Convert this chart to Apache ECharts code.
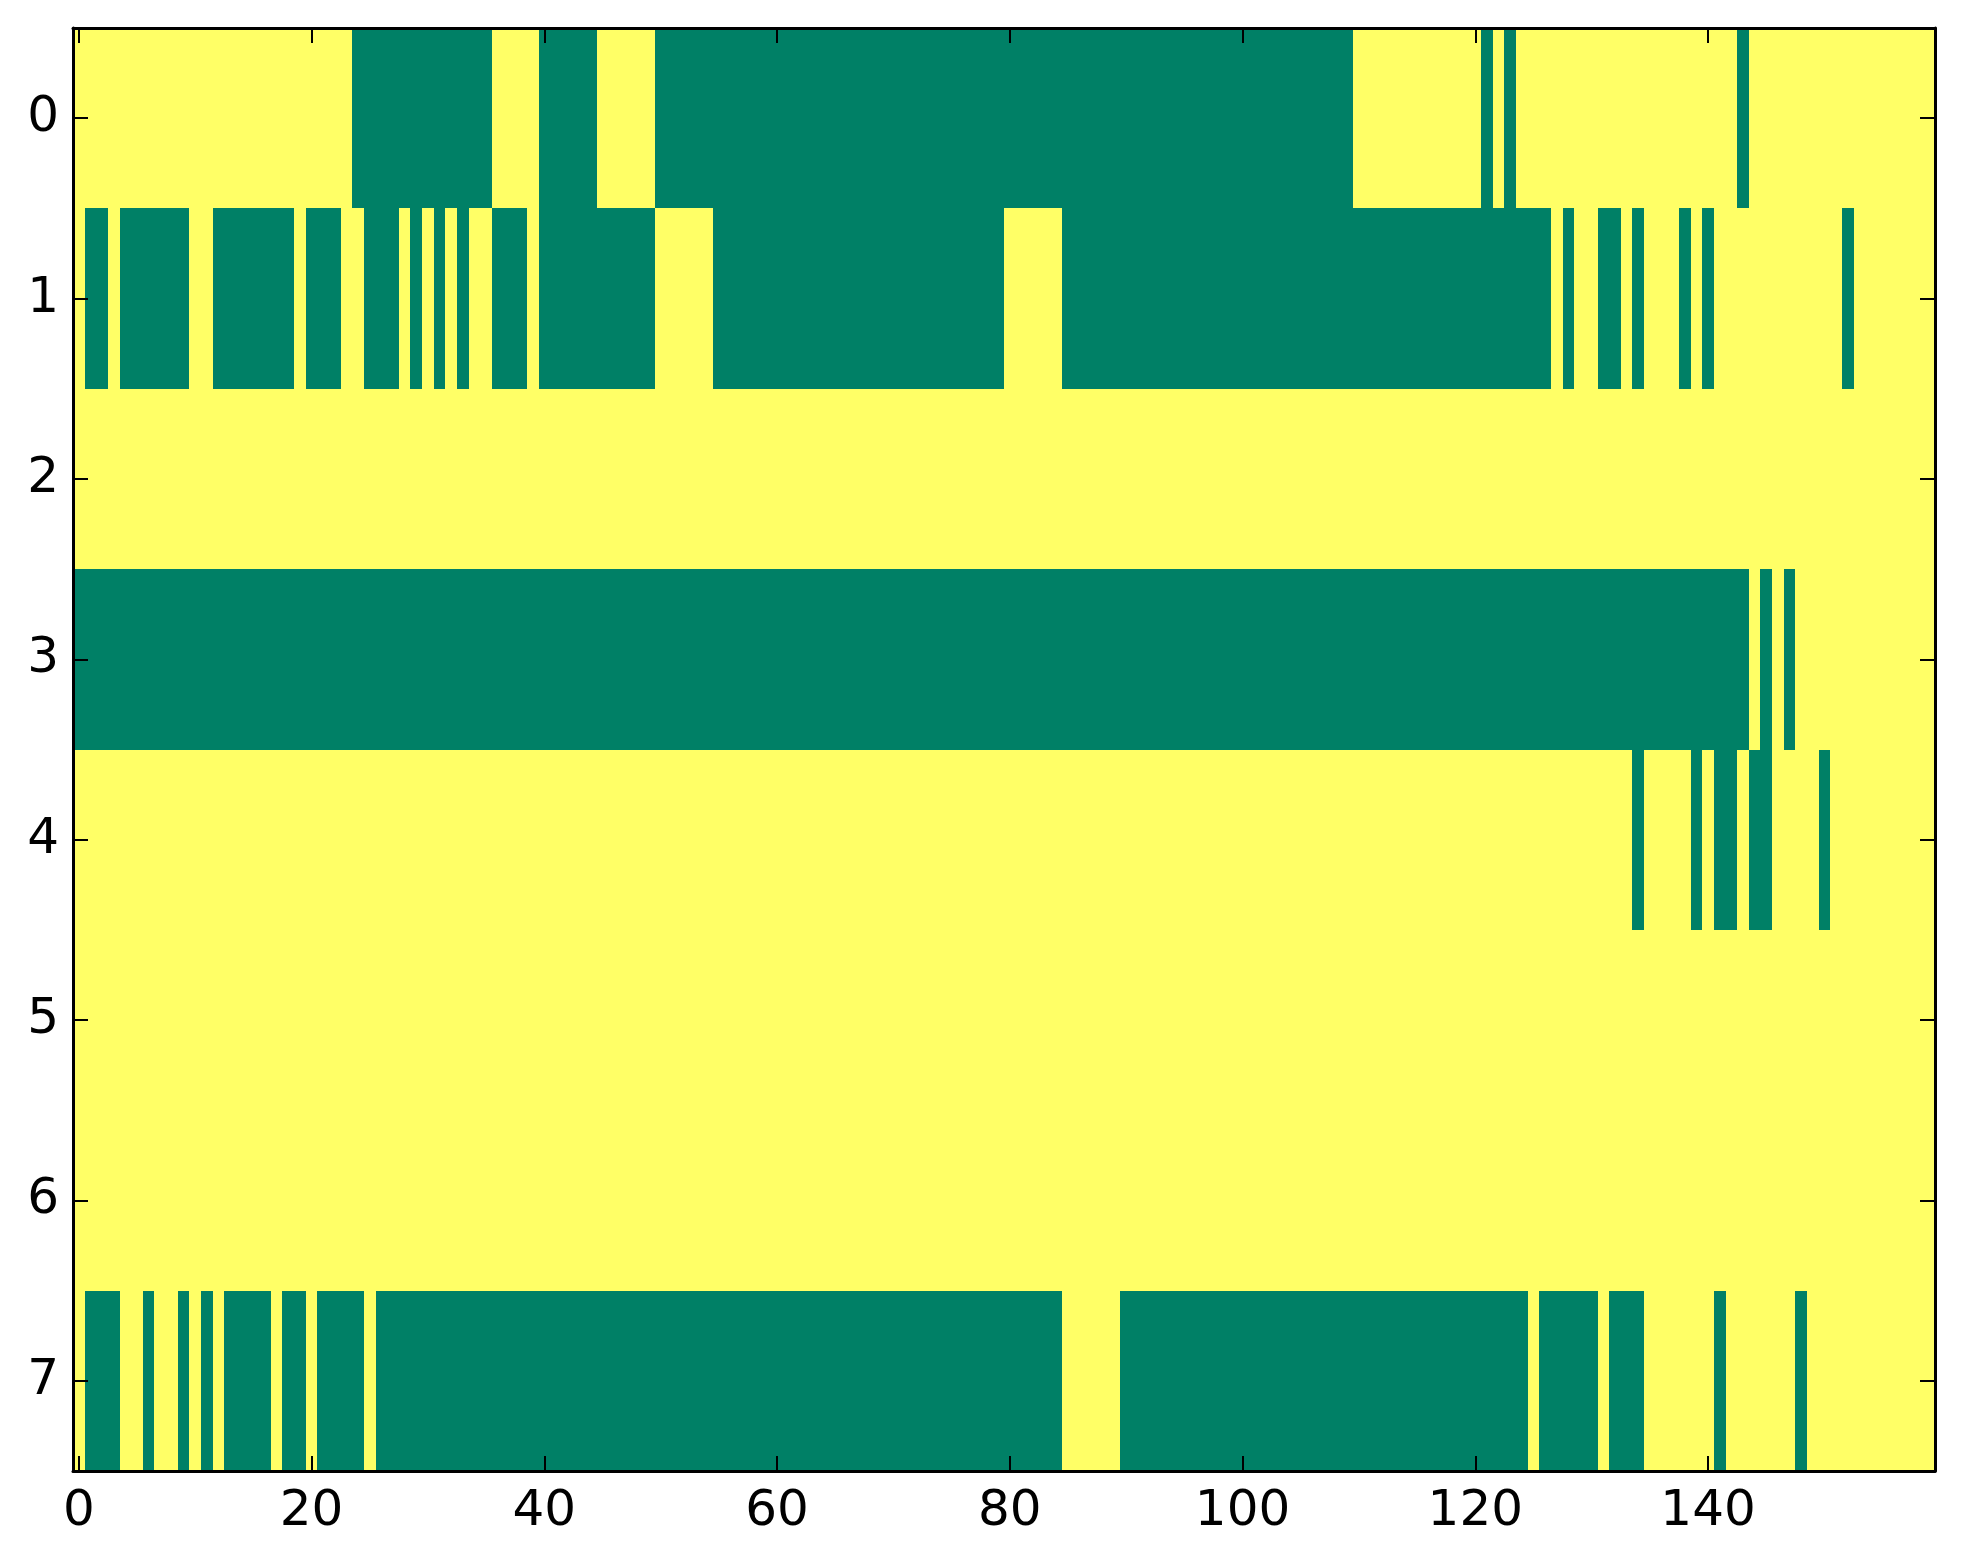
<!DOCTYPE html>
<html>
<head>
<meta charset="utf-8">
<script src="https://cdn.jsdelivr.net/npm/echarts@6/dist/echarts.min.js"></script>
<style>
  html, body { margin: 0; padding: 0; background: #ffffff; }
  #chart { width: 1963px; height: 1564px; }
</style>
</head>
<body>
<div id="chart"></div>
<script>
// Column indices 0..159 and row indices 0..7
const columns = Array.from({ length: 160 }, (_, i) => String(i));
const rows = ['0', '1', '2', '3', '4', '5', '6', '7'];

// Cell values (0 = green, 1 = yellow), 20 values per line
const row0 = [
  1,1,1,1,1,1,1,1,1,1,1,1,1,1,1,1,1,1,1,1,
  1,1,1,1,0,0,0,0,0,0,0,0,0,0,0,0,1,1,1,1,
  0,0,0,0,0,1,1,1,1,1,0,0,0,0,0,0,0,0,0,0,
  0,0,0,0,0,0,0,0,0,0,0,0,0,0,0,0,0,0,0,0,
  0,0,0,0,0,0,0,0,0,0,0,0,0,0,0,0,0,0,0,0,
  0,0,0,0,0,0,0,0,0,0,1,1,1,1,1,1,1,1,1,1,
  1,0,1,0,1,1,1,1,1,1,1,1,1,1,1,1,1,1,1,1,
  1,1,1,0,1,1,1,1,1,1,1,1,1,1,1,1,1,1,1,1
];
const row1 = [
  1,0,0,1,0,0,0,0,0,0,1,1,0,0,0,0,0,0,0,1,
  0,0,0,1,1,0,0,0,1,0,1,0,1,0,1,1,0,0,0,1,
  0,0,0,0,0,0,0,0,0,0,1,1,1,1,1,0,0,0,0,0,
  0,0,0,0,0,0,0,0,0,0,0,0,0,0,0,0,0,0,0,0,
  1,1,1,1,1,0,0,0,0,0,0,0,0,0,0,0,0,0,0,0,
  0,0,0,0,0,0,0,0,0,0,0,0,0,0,0,0,0,0,0,0,
  0,0,0,0,0,0,0,1,0,1,1,0,0,1,0,1,1,1,0,1,
  0,1,1,1,1,1,1,1,1,1,1,1,0,1,1,1,1,1,1,1
];
const row2 = [
  1,1,1,1,1,1,1,1,1,1,1,1,1,1,1,1,1,1,1,1,
  1,1,1,1,1,1,1,1,1,1,1,1,1,1,1,1,1,1,1,1,
  1,1,1,1,1,1,1,1,1,1,1,1,1,1,1,1,1,1,1,1,
  1,1,1,1,1,1,1,1,1,1,1,1,1,1,1,1,1,1,1,1,
  1,1,1,1,1,1,1,1,1,1,1,1,1,1,1,1,1,1,1,1,
  1,1,1,1,1,1,1,1,1,1,1,1,1,1,1,1,1,1,1,1,
  1,1,1,1,1,1,1,1,1,1,1,1,1,1,1,1,1,1,1,1,
  1,1,1,1,1,1,1,1,1,1,1,1,1,1,1,1,1,1,1,1
];
const row3 = [
  0,0,0,0,0,0,0,0,0,0,0,0,0,0,0,0,0,0,0,0,
  0,0,0,0,0,0,0,0,0,0,0,0,0,0,0,0,0,0,0,0,
  0,0,0,0,0,0,0,0,0,0,0,0,0,0,0,0,0,0,0,0,
  0,0,0,0,0,0,0,0,0,0,0,0,0,0,0,0,0,0,0,0,
  0,0,0,0,0,0,0,0,0,0,0,0,0,0,0,0,0,0,0,0,
  0,0,0,0,0,0,0,0,0,0,0,0,0,0,0,0,0,0,0,0,
  0,0,0,0,0,0,0,0,0,0,0,0,0,0,0,0,0,0,0,0,
  0,0,0,0,1,0,1,0,1,1,1,1,1,1,1,1,1,1,1,1
];
const row4 = [
  1,1,1,1,1,1,1,1,1,1,1,1,1,1,1,1,1,1,1,1,
  1,1,1,1,1,1,1,1,1,1,1,1,1,1,1,1,1,1,1,1,
  1,1,1,1,1,1,1,1,1,1,1,1,1,1,1,1,1,1,1,1,
  1,1,1,1,1,1,1,1,1,1,1,1,1,1,1,1,1,1,1,1,
  1,1,1,1,1,1,1,1,1,1,1,1,1,1,1,1,1,1,1,1,
  1,1,1,1,1,1,1,1,1,1,1,1,1,1,1,1,1,1,1,1,
  1,1,1,1,1,1,1,1,1,1,1,1,1,1,0,1,1,1,1,0,
  1,0,0,1,0,0,1,1,1,1,0,1,1,1,1,1,1,1,1,1
];
const row5 = [
  1,1,1,1,1,1,1,1,1,1,1,1,1,1,1,1,1,1,1,1,
  1,1,1,1,1,1,1,1,1,1,1,1,1,1,1,1,1,1,1,1,
  1,1,1,1,1,1,1,1,1,1,1,1,1,1,1,1,1,1,1,1,
  1,1,1,1,1,1,1,1,1,1,1,1,1,1,1,1,1,1,1,1,
  1,1,1,1,1,1,1,1,1,1,1,1,1,1,1,1,1,1,1,1,
  1,1,1,1,1,1,1,1,1,1,1,1,1,1,1,1,1,1,1,1,
  1,1,1,1,1,1,1,1,1,1,1,1,1,1,1,1,1,1,1,1,
  1,1,1,1,1,1,1,1,1,1,1,1,1,1,1,1,1,1,1,1
];
const row6 = [
  1,1,1,1,1,1,1,1,1,1,1,1,1,1,1,1,1,1,1,1,
  1,1,1,1,1,1,1,1,1,1,1,1,1,1,1,1,1,1,1,1,
  1,1,1,1,1,1,1,1,1,1,1,1,1,1,1,1,1,1,1,1,
  1,1,1,1,1,1,1,1,1,1,1,1,1,1,1,1,1,1,1,1,
  1,1,1,1,1,1,1,1,1,1,1,1,1,1,1,1,1,1,1,1,
  1,1,1,1,1,1,1,1,1,1,1,1,1,1,1,1,1,1,1,1,
  1,1,1,1,1,1,1,1,1,1,1,1,1,1,1,1,1,1,1,1,
  1,1,1,1,1,1,1,1,1,1,1,1,1,1,1,1,1,1,1,1
];
const row7 = [
  1,0,0,0,1,1,0,1,1,0,1,0,1,0,0,0,0,1,0,0,
  1,0,0,0,0,1,0,0,0,0,0,0,0,0,0,0,0,0,0,0,
  0,0,0,0,0,0,0,0,0,0,0,0,0,0,0,0,0,0,0,0,
  0,0,0,0,0,0,0,0,0,0,0,0,0,0,0,0,0,0,0,0,
  0,0,0,0,0,1,1,1,1,1,0,0,0,0,0,0,0,0,0,0,
  0,0,0,0,0,0,0,0,0,0,0,0,0,0,0,0,0,0,0,0,
  0,0,0,0,0,1,0,0,0,0,0,1,0,0,0,1,1,1,1,1,
  1,0,1,1,1,1,1,1,0,1,1,1,1,1,1,1,1,1,1,1
];
const grid = [row0, row1, row2, row3, row4, row5, row6, row7];

// Tick labels shown on the axes
const xTickLabels = ['0', '20', '40', '60', '80', '100', '120', '140'];
const yTickLabels = ['0', '1', '2', '3', '4', '5', '6', '7'];

const GREEN = '#008066';
const YELLOW = '#ffff66';

const cells = [];
grid.forEach((r, ri) => r.forEach((v, ci) => cells.push([ci, ri, v])));

const FONT = 'DejaVu Sans';
const isXTick = (idx) => xTickLabels.indexOf(columns[idx]) >= 0;
const isYTick = (idx) => yTickLabels.indexOf(rows[idx]) >= 0;

const axisLine = { show: true, onZero: false, lineStyle: { color: '#000', width: 3 } };
const tickStyle = { color: '#000', width: 2 };

// snap a pixel edge: first kill float noise, then round to whole pixel
const snap = (v) => Math.round(Math.round(v * 1000) / 1000);

function renderCell(params, api) {
  const c = api.coord([api.value(0), api.value(1)]);
  const s = api.size([1, 1]);
  const x0 = snap(c[0] - s[0] / 2), x1 = snap(c[0] + s[0] / 2);
  const y0 = snap(c[1] - s[1] / 2), y1 = snap(c[1] + s[1] / 2);
  return {
    type: 'rect',
    shape: { x: x0, y: y0, width: x1 - x0, height: y1 - y0 },
    style: { fill: api.visual('color'), stroke: null },
    silent: true
  };
}

const chart = echarts.init(document.getElementById('chart'), null, { renderer: 'canvas' });
chart.setOption({
  animation: false,
  backgroundColor: '#ffffff',
  grid: { left: 73, top: 28, right: 28, bottom: 93, containLabel: false },
  xAxis: [
    {
      type: 'category', data: columns, position: 'bottom', z: 10,
      axisLine: axisLine,
      axisTick: { show: true, inside: true, length: 15, alignWithLabel: true, interval: (i) => isXTick(i), lineStyle: tickStyle },
      axisLabel: { interval: (i) => isXTick(i), fontFamily: FONT, fontSize: 50, color: '#000', margin: 16 },
      splitLine: { show: false }
    },
    {
      type: 'category', data: columns, position: 'top', z: 10,
      axisLine: axisLine,
      axisTick: { show: true, inside: true, length: 15, alignWithLabel: true, interval: (i) => isXTick(i), lineStyle: tickStyle },
      axisLabel: { show: false },
      splitLine: { show: false }
    }
  ],
  yAxis: [
    {
      type: 'category', data: rows, inverse: true, position: 'left', z: 10,
      axisLine: axisLine,
      axisTick: { show: true, inside: true, length: 15, alignWithLabel: true, interval: (i) => isYTick(i), lineStyle: tickStyle },
      axisLabel: { interval: (i) => isYTick(i), fontFamily: FONT, fontSize: 50, color: '#000', margin: 14 },
      splitLine: { show: false }
    },
    {
      type: 'category', data: rows, inverse: true, position: 'right', z: 10,
      axisLine: axisLine,
      axisTick: { show: true, inside: true, length: 15, alignWithLabel: true, interval: (i) => isYTick(i), lineStyle: tickStyle },
      axisLabel: { show: false },
      splitLine: { show: false }
    }
  ],
  visualMap: {
    type: 'piecewise', show: false, dimension: 2, seriesIndex: 0,
    pieces: [ { value: 0, color: GREEN }, { value: 1, color: YELLOW } ]
  },
  series: [{
    type: 'custom',
    xAxisIndex: 0, yAxisIndex: 0,
    encode: { x: 0, y: 1 },
    renderItem: renderCell,
    data: cells,
    z: 2
  }]
});
</script>
</body>
</html>
